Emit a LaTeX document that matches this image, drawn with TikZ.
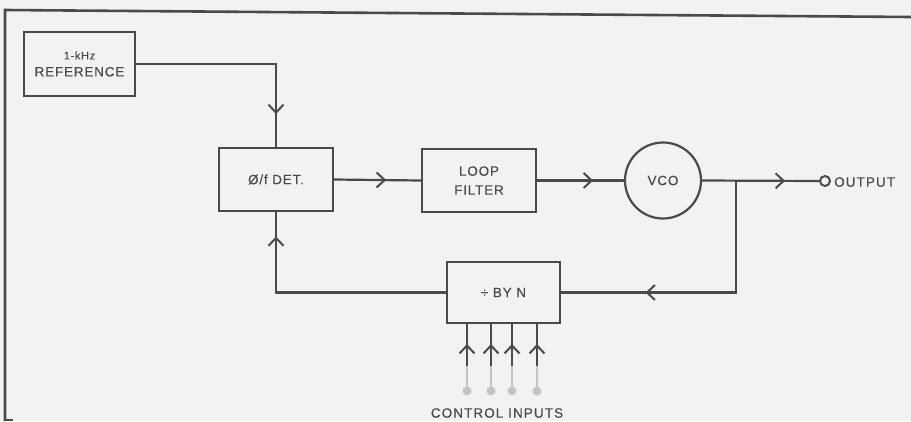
\documentclass[tikz,border=0pt]{standalone}
\usepackage{fontspec}
\setmainfont{Liberation Sans}
\usetikzlibrary{arrows.meta,decorations.markings}
\definecolor{ink}{HTML}{4A4A4A}
\definecolor{paper}{HTML}{F2F2F2}
\definecolor{faded}{HTML}{C4C4C4}
\tikzset{
  x=1pt,y=-1pt,
  wire/.style={draw=ink,line width=2.2pt},
  blk/.style={draw=ink,line width=2.2pt,rectangle,inner sep=0pt,align=center,
    font=\fontsize{13.5}{16}\selectfont\addfontfeature{LetterSpace=6,FakeBold=0.35},text=ink},
  lbl/.style={inner sep=0pt,font=\fontsize{13.5}{16}\selectfont\addfontfeature{LetterSpace=8,FakeBold=0.35},text=ink},
  midarr/.style={postaction={decorate},decoration={markings,
    mark=at position #1 with {\arrow[ink,line width=2pt]{Straight Barb[length=8pt,width=15pt]}}}},
}
\begin{document}
\begin{tikzpicture}
\fill[paper] (0,0) rectangle (911,421);
\useasboundingbox (0,0) rectangle (911,421);
% frame
\draw[ink,line width=2.6pt] (5,421) -- (5,10) -- (911,17);
\draw[ink,line width=2.6pt] (5,420) -- (13,420);
% blocks
\node[blk,minimum width=111,minimum height=64] (ref) at (79.5,64)
  {{\fontsize{11}{13}\selectfont 1-kHz}\\[1pt]REFERENCE};
\node[blk,minimum width=114,minimum height=63] (det) at (276,179.5) {Ø/f DET.};
\node[blk,minimum width=114,minimum height=63] (lf) at (479,180.5) {LOOP\\[3pt]FILTER};
\node[blk,circle,minimum size=76] (vco) at (663,180.5) {VCO};
\node[draw=ink,line width=2pt,circle,minimum size=10,inner sep=0pt] (out) at (825,181) {};
\node[lbl,anchor=west] (outl) at (834,182) {OUTPUT};
\node[blk,minimum width=113,minimum height=61] (div) at (503.5,292.5) {÷ BY N};
\coordinate (j) at (736,181);
% connectors
\draw[wire,midarr=190pt] (ref.east) -| (det.north);
\draw[wire,midarr=52pt] (det.east) -- (lf.west);
\draw[wire,midarr=56pt] (lf.east) -- (vco.west);
\draw[wire,midarr=83pt] (vco.east) -- (out.west);
\draw[wire,midarr=202pt] (j) |- (div.east);
\draw[wire,midarr=226pt] (div.west) -| (det.south);
% control inputs
\foreach \i/\xx in {1/467,2/491,3/512,4/537}{
  \coordinate (m\i) at (\xx,366);
  \coordinate (c\i) at (\xx,388);
  \draw[wire,midarr=22pt] (m\i) -- (m\i |- div.south);
  \draw[faded,line width=2pt] (c\i) -- (m\i);
  \fill[faded] (\xx,391) circle (4.5);
}
\node[lbl] (ctl) at (497,413) {CONTROL INPUTS};
\end{tikzpicture}
\end{document}
